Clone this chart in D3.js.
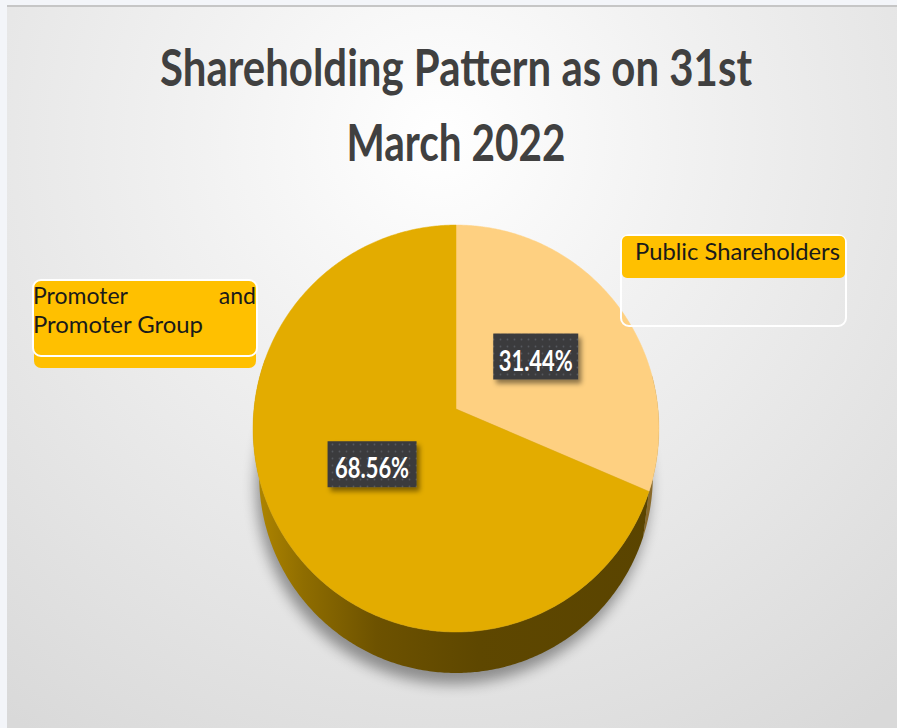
<!DOCTYPE html>
<html>
<head>
<meta charset="utf-8">
<script src="https://cdn.jsdelivr.net/npm/d3@7"></script>
<style>
  html, body { margin: 0; padding: 0; background: #ffffff; }
  svg { display: block; }
</style>
</head>
<body>
<div id="chart"></div>
<script>
// ---------- data ----------
const categories = ["Public Shareholders", "Promoter and Promoter Group"];
const values = [31.44, 68.56];
const valueLabels = ["31.44%", "68.56%"];
const titleLines = ["Shareholding Pattern as on 31st", "March 2022"];

// ---------- styles ----------
const topColors = ["#FED081", "#E3AC00"];
const sideColors = ["#8a6a2a", "url(#sideGrad)"];
const W = 897, H = 728;

const svg = d3.select("#chart").append("svg").attr("width", W).attr("height", H);
const defs = svg.append("defs");

// background gradient
const bg = defs.append("radialGradient").attr("id", "bgGrad")
  .attr("gradientUnits", "userSpaceOnUse")
  .attr("cx", 440).attr("cy", 140).attr("r", 720);
bg.append("stop").attr("offset", "0%").attr("stop-color", "#ffffff");
bg.append("stop").attr("offset", "35%").attr("stop-color", "#f1f1f1");
bg.append("stop").attr("offset", "100%").attr("stop-color", "#d9d9d9");

// side gradient
const sg = defs.append("linearGradient").attr("id", "sideGrad")
  .attr("gradientUnits", "userSpaceOnUse")
  .attr("x1", 255).attr("x2", 660).attr("y1", 0).attr("y2", 0);
sg.append("stop").attr("offset", "0%").attr("stop-color", "#b08600");
sg.append("stop").attr("offset", "12%").attr("stop-color", "#8f6d00");
sg.append("stop").attr("offset", "30%").attr("stop-color", "#6d5200");
sg.append("stop").attr("offset", "55%").attr("stop-color", "#5e4700");
sg.append("stop").attr("offset", "100%").attr("stop-color", "#5a4400");

// shadow filters
const sh = defs.append("filter").attr("id", "pieShadow")
  .attr("x", "-20%").attr("y", "-20%").attr("width", "140%").attr("height", "140%");
sh.append("feGaussianBlur").attr("stdDeviation", 7);

const ls = defs.append("filter").attr("id", "lblShadow")
  .attr("x", "-20%").attr("y", "-30%").attr("width", "150%").attr("height", "170%");
ls.append("feDropShadow").attr("dx", 3).attr("dy", 4).attr("stdDeviation", 2.5)
  .attr("flood-color", "#000").attr("flood-opacity", 0.45);

// dotted pattern for data labels
const pat = defs.append("pattern").attr("id", "dots")
  .attr("patternUnits", "userSpaceOnUse").attr("width", 7).attr("height", 7);
pat.append("rect").attr("width", 7).attr("height", 7).attr("fill", "#3a3b3d");
pat.append("circle").attr("cx", 3.5).attr("cy", 3.5).attr("r", 0.9).attr("fill", "#56585d");

// background
svg.append("rect").attr("width", W).attr("height", H).attr("fill", "#f3f5f9");
svg.append("rect").attr("x", 7).attr("y", 6).attr("width", W - 7).attr("height", H - 6)
  .attr("fill", "url(#bgGrad)");
svg.append("rect").attr("x", 7).attr("y", 5).attr("width", W - 7).attr("height", 2)
  .attr("fill", "#c6c6c6");

// ---------- title ----------
const titleG = svg.append("g");
const titleX = 456;
const titleBase = [86, 161];
const titleLen = [592, 219];
titleLines.forEach((t, i) => {
  titleG.append("text")
    .attr("x", titleX).attr("y", titleBase[i])
    .attr("text-anchor", "middle")
    .attr("font-family", "Lato, 'Open Sans', sans-serif")
    .attr("font-weight", 700)
    .attr("font-size", 51)
    .attr("fill", "#404040")
    .attr("textLength", titleLen[i])
    .attr("lengthAdjust", "spacingAndGlyphs")
    .text(t);
});

// ---------- 3D pie ----------
const cx = 456, cy = 409, kx = 202, ky = 201.6, persp = 0.0959;
const depthScale = 0.97, cyBottom = 456.7;

function projTop(a, r) {
  const x = r * Math.sin(a), z = -r * Math.cos(a);
  const d = 1 - persp * z;
  return [cx + kx * x / d, cy + ky * z / d];
}
function projBottom(a, r) {
  const x = r * Math.sin(a), z = -r * Math.cos(a);
  const d = 1 - persp * z;
  return [cx + depthScale * kx * x / d, cyBottom + depthScale * ky * z / d];
}

const pie = d3.pie().sort(null).value(d => d);
const arcs = pie(values);
const line = d3.line();

function rimPoints(proj, a0, a1) {
  const n = Math.max(2, Math.ceil((a1 - a0) / 0.01));
  return d3.range(n + 1).map(i => proj(a0 + (a1 - a0) * i / n, 1));
}

const pieG = svg.append("g");

// shadow beneath
const fullBottom = rimPoints(projBottom, 0, 2 * Math.PI);
pieG.append("path")
  .attr("d", line(fullBottom) + "Z")
  .attr("transform", "translate(-3,11)")
  .attr("fill", "#000").attr("opacity", 0.38)
  .attr("filter", "url(#pieShadow)");

// sides (front-facing portion)
const visFrom = 80 * Math.PI / 180, visTo = 285 * Math.PI / 180;
arcs.forEach((d, i) => {
  const a0 = Math.max(d.startAngle, visFrom), a1 = Math.min(d.endAngle, visTo);
  if (a1 <= a0) return;
  const topPts = rimPoints(projTop, a0, a1);
  const botPts = rimPoints(projBottom, a0, a1).reverse();
  pieG.append("path")
    .attr("d", line(topPts.concat(botPts)) + "Z")
    .attr("fill", sideColors[i]);
});

// top faces
arcs.forEach((d, i) => {
  const pts = [projTop(0, 0)].concat(rimPoints(projTop, d.startAngle, d.endAngle));
  pieG.append("path")
    .attr("d", line(pts) + "Z")
    .attr("fill", topColors[i])
    .attr("stroke", topColors[i]).attr("stroke-width", 0.5);
});

// ---------- data labels ----------
const lblW = [85, 89], lblH = 46;
arcs.forEach((d, i) => {
  const mid = (d.startAngle + d.endAngle) / 2;
  const [lx, ly] = projTop(mid, 0.485);
  const g = svg.append("g");
  g.append("rect")
    .attr("x", lx - lblW[i] / 2).attr("y", ly - lblH / 2)
    .attr("width", lblW[i]).attr("height", lblH)
    .attr("fill", "url(#dots)")
    .attr("filter", "url(#lblShadow)");
  g.append("text")
    .attr("x", lx).attr("y", ly + 14)
    .attr("text-anchor", "middle")
    .attr("font-family", "Lato, 'Open Sans', sans-serif")
    .attr("font-weight", 700)
    .attr("font-size", 29)
    .attr("fill", "#ffffff")
    .attr("textLength", 74)
    .attr("lengthAdjust", "spacingAndGlyphs")
    .text(valueLabels[i]);
});

// ---------- category label boxes ----------
const fontFam = "Lato, 'Open Sans', sans-serif";
// Promoter box (left)
const lg = svg.append("g");
lg.append("rect").attr("x", 34).attr("y", 300).attr("width", 222).attr("height", 68)
  .attr("rx", 7).attr("fill", "#FFC000");
lg.append("rect").attr("x", 33).attr("y", 280).attr("width", 224).attr("height", 76)
  .attr("rx", 8).attr("fill", "#FFC000")
  .attr("stroke", "#ffffff").attr("stroke-width", 2);
const promoWords = categories[1].split(" ");
lg.append("text").attr("x", 33).attr("y", 304)
  .attr("font-family", fontFam).attr("font-size", 23).attr("fill", "#1a1a1a")
  .text(promoWords[0]);
lg.append("text").attr("x", 256).attr("y", 304).attr("text-anchor", "end")
  .attr("font-family", fontFam).attr("font-size", 23).attr("fill", "#1a1a1a")
  .text(promoWords[1]);
lg.append("text").attr("x", 33).attr("y", 333)
  .attr("font-family", fontFam).attr("font-size", 23).attr("fill", "#1a1a1a")
  .attr("textLength", 170).attr("lengthAdjust", "spacingAndGlyphs")
  .text(promoWords.slice(2).join(" "));

// Public box (right)
const rg = svg.append("g");
rg.append("rect").attr("x", 621).attr("y", 235).attr("width", 225).attr("height", 91)
  .attr("rx", 8).attr("fill", "none")
  .attr("stroke", "#ffffff").attr("stroke-width", 2);
rg.append("rect").attr("x", 622).attr("y", 236).attr("width", 223).attr("height", 42)
  .attr("rx", 5).attr("fill", "#FFC000");
rg.append("text").attr("x", 635).attr("y", 260)
  .attr("font-family", fontFam).attr("font-size", 23).attr("fill", "#1a1a1a")
  .attr("textLength", 205).attr("lengthAdjust", "spacingAndGlyphs")
  .text(categories[0]);
</script>
</body>
</html>
